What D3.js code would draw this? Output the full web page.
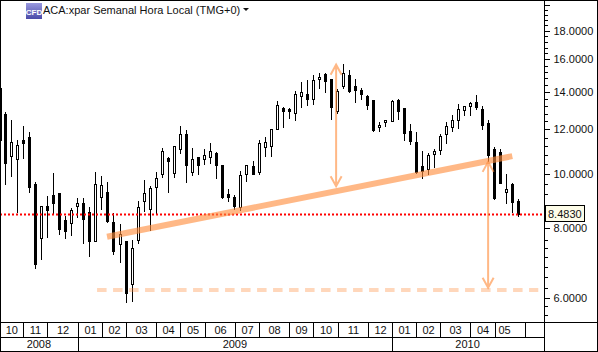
<!DOCTYPE html>
<html>
<head>
<meta charset="utf-8">
<script src="https://d3js.org/d3.v7.min.js"></script>
<style>
  html, body { margin: 0; padding: 0; background: #fff; }
  svg { display: block; }
  text { font-family: "Liberation Sans", Arial, sans-serif; font-size: 11px; fill: #111; }
</style>
</head>
<body>
<div id="chart"></div>
<script>
//***************** data *******************/
// weekly candles, first one is cut by the left edge
var opens = [14.23,12.78,10.76,10.63,11.49,11.63,9.59,7.68,8.76,9.17,9.24,8.27,8.17,8.76,8.87,8.55,7.59,9.09,9.28,8.20,7.50,7.59,6.36,7.62,8.94,8.66,9.47,9.99,10.67,10.03,11.07,11.77,10.08,10.71,
  10.63,10.71,10.89,10.37,9.21,9.09,8.73,9.99,10.33,10.08,11.16,11.21,12.02,13.10,13.05,12.84,13.77,13.88,13.60,14.77,15.07,14.77,12.94,14.35,15.01,14.35,14.11,13.77,13.54,12.12,12.37,12.42,13.54,
  13.10,11.92,11.40,10.33,10.20,10.85,11.03,11.77,12.12,12.47,13.00,13.21,13.43,13.05,12.32,11.07,10.94,9.28,9.59,8.94];
var closes = [11.49,10.45,11.40,11.26,11.35,9.47,6.89,8.76,8.62,8.87,7.97,7.91,8.62,8.87,8.30,7.59,9.59,9.55,8.24,7.29,7.81,6.12,7.38,8.73,9.24,9.44,9.83,10.98,10.54,11.21,11.77,10.37,10.63,10.37,
  10.80,10.98,10.37,9.09,9.09,8.76,9.95,10.37,9.99,11.35,11.40,12.02,13.27,12.94,12.94,13.88,14.00,13.60,14.71,14.89,14.65,13.16,14.05,15.14,14.05,14.11,13.88,13.27,11.97,12.22,12.47,13.49,12.94,
  11.82,11.44,10.08,10.12,10.80,10.98,11.68,12.17,12.47,13.05,13.21,13.38,13.16,12.22,10.80,9.06,9.63,9.40,8.91,8.48];
var highs = [14.23,12.89,12.47,11.49,12.17,11.87,9.67,8.76,9.13,10.03,9.24,8.41,8.69,9.06,9.06,8.73,10.08,9.91,9.67,8.51,8.14,7.59,7.62,8.94,9.75,9.51,10.08,11.12,10.71,11.21,12.17,11.97,11.12,10.71,
  11.07,11.35,10.94,10.37,9.40,9.17,10.12,10.37,10.54,11.49,11.63,12.02,13.49,13.16,13.10,14.05,14.59,14.71,15.01,15.14,15.14,14.77,14.17,15.71,15.32,14.77,14.23,13.83,13.54,12.37,12.47,13.54,13.60,
  13.10,12.27,11.87,10.98,10.89,11.07,11.77,12.37,12.73,13.32,13.21,13.43,13.83,13.21,12.47,11.16,11.07,9.99,9.63,9.02];
var lows = [11.49,9.59,9.91,8.55,10.67,9.28,6.78,7.03,7.72,8.51,7.81,7.68,7.78,8.37,7.53,7.14,7.59,8.66,8.20,7.20,6.97,5.90,5.93,7.53,8.58,7.94,8.51,9.87,9.28,9.87,10.89,9.67,9.95,9.99,
  10.41,10.45,9.83,9.06,8.94,8.66,8.62,9.71,9.99,9.99,10.76,10.76,12.02,12.12,12.58,12.47,13.16,13.27,13.32,14.23,14.00,12.52,12.84,14.23,14.00,13.43,13.60,13.05,11.92,11.92,12.17,12.42,12.52,
  11.49,11.30,10.03,9.83,9.99,10.28,10.85,11.35,11.92,12.07,12.73,12.73,13.05,12.02,10.54,9.02,9.63,8.87,8.55,8.41];

var lastPrice = 8.483;
var priceTicks = [20,18,16,14,12,10,8,6];
var minorTicks = [19.6,19.2,18.8,18.4,17.6,17.2,16.8,16.4,15.6,15.2,14.8,14.4,13.6,13.2,12.8,12.4,11.6,11.2,10.8,10.4,9.6,9.2,8.8,8.4,
  7.62,7.38,7.09,6.81,6.55,6.25,5.8,5.6];

// months and years along the bottom, start = week number
var monthLabels = ["10","11","12","01","02","03","04","05","06","07","08","09","10","11","12","01","02","03","04","05"];
var monthEnds = [3,7,12,16,20,25,29,33,38,42,47,51,55,60,64,68,72,77,81,84];
var monthRules = [3,7,12,16,20,25,29,33,38,42,47,51,55,60,64,68,72,77,81,86];
var yearLabels = ["2008","2009","2010"];
var yearStarts = [-0.86,12,64];
var yearEnds = [12,64,89];

// drawn annotations: [week, price]
var trendLine = [[16.85,7.72],[83.9,10.75]];
var supportLine = [[15.2,6.2],[88.2,6.2]];
var arrowUp = [54.75,15.66,9.5];
var arrowDown = [79.9,10.5,6.26];

//************* set dimensions ***************/
var width = 598, height = 352;
var axisX = 544.5, monthTop = 322.5, yearTop = 337.5;

//************** setup svg  *****************/
var svg = d3.select("#chart").append("svg")
  .attr("width", width)
  .attr("height", height);

//***************** scales *******************/
var x = d3.scaleLinear().domain([0,85]).range([5.205,518.945]);
var y = d3.scaleLog().domain([6,18]).range([298,30.8]);

function px(i) { return Math.max(0, Math.floor(x(i))); }
function py(v) { return Math.round(y(v)); }

//***************** candles *******************/
var weeks = d3.range(opens.length).map(function(i) { return i - 1; });

var candles = svg.append("g").attr("shape-rendering", "crispEdges");

candles.selectAll("line")
  .data(weeks)
  .enter().append("line")
    .attr("x1", function(d) { return px(d) + 0.5; })
    .attr("x2", function(d) { return px(d) + 0.5; })
    .attr("y1", function(d) { return py(highs[d+1]); })
    .attr("y2", function(d) { return py(lows[d+1]) + 1; })
    .attr("stroke", "#000");

// down weeks are solid, up weeks hollow
candles.selectAll("rect.down")
  .data(weeks.filter(function(d) { return closes[d+1] < opens[d+1]; }))
  .enter().append("rect")
    .attr("class", "down")
    .attr("x", function(d) { return px(d) - 1; })
    .attr("y", function(d) { return py(opens[d+1]); })
    .attr("width", 3)
    .attr("height", function(d) { return py(closes[d+1]) - py(opens[d+1]) + 1; })
    .attr("fill", "#000");

candles.selectAll("rect.up")
  .data(weeks.filter(function(d) { return closes[d+1] >= opens[d+1]; }))
  .enter().append("rect")
    .attr("class", "up")
    .attr("x", function(d) { return px(d) - 0.5; })
    .attr("y", function(d) { return py(closes[d+1]) + 0.5; })
    .attr("width", 2)
    .attr("height", function(d) { return py(opens[d+1]) - py(closes[d+1]); })
    .attr("fill", "#fff")
    .attr("stroke", "#000");

//***************** last price line *******************/
svg.append("line")
  .attr("x1", 0)
  .attr("x2", axisX - 1.5)
  .attr("y1", py(lastPrice) + 0.5)
  .attr("y2", py(lastPrice) + 0.5)
  .attr("stroke", "#f00")
  .attr("stroke-width", 2)
  .attr("stroke-dasharray", "2,2");

//***************** annotations *******************/
var orange = "#ff8c3c";

svg.append("line")
  .attr("x1", x(trendLine[0][0])).attr("y1", y(trendLine[0][1]))
  .attr("x2", x(trendLine[1][0])).attr("y2", y(trendLine[1][1]))
  .attr("stroke", orange)
  .attr("stroke-opacity", 0.62)
  .attr("stroke-width", 6);

svg.append("line")
  .attr("x1", x(supportLine[0][0])).attr("y1", y(supportLine[0][1]))
  .attr("x2", x(supportLine[1][0])).attr("y2", y(supportLine[1][1]))
  .attr("stroke", orange)
  .attr("stroke-opacity", 0.35)
  .attr("stroke-width", 4)
  .attr("stroke-dasharray", "9.5,6.5");

// double arrow: straight shaft, open heads
function drawArrow(a, both) {
  var ax = x(a[0]), top = y(a[1]), bottom = y(a[2]);
  var d = "M" + ax + "," + top + "L" + ax + "," + bottom +
    "M" + (ax-5.5) + "," + (bottom-10) + "L" + ax + "," + bottom + "L" + (ax+5.5) + "," + (bottom-10) +
    "M" + (ax-5.5) + "," + (top+10) + "L" + ax + "," + top + "L" + (ax+5.5) + "," + (top+10);
  svg.append("path")
    .attr("d", d)
    .attr("fill", "none")
    .attr("stroke", orange)
    .attr("stroke-opacity", 0.62)
    .attr("stroke-width", 2);
}
drawArrow(arrowUp);
drawArrow(arrowDown);

//***************** axes *******************/
var axisMinor = d3.axisRight(y)
  .tickValues(minorTicks)
  .tickSize(3)
  .tickFormat("");
var axisMajor = d3.axisRight(y)
  .tickValues(priceTicks)
  .tickSize(5)
  .tickPadding(4)
  .tickFormat(function(d) { return d === 20 ? "" : d3.format(".4f")(d); });

[axisMinor, axisMajor].forEach(function(ax) {
  var g = svg.append("g")
    .attr("transform", "translate(" + axisX + ",0)")
    .attr("shape-rendering", "crispEdges")
    .call(ax);
  g.select(".domain").remove();
  g.selectAll("line").attr("stroke", "#000");
  g.selectAll("text")
    .attr("fill", "#111")
    .attr("font-size", "11px")
    .attr("font-family", "Liberation Sans");
});

// price box
var box = svg.append("g");
box.append("rect")
  .attr("x", 545.5).attr("y", 205.5)
  .attr("width", 39).attr("height", 16)
  .attr("fill", "#fdfce8")
  .attr("stroke", "#000");
box.append("text")
  .attr("x", 548).attr("y", 217.5)
  .text(d3.format(".4f")(lastPrice));

//***************** frame and date rows *******************/
var rules = svg.append("g")
  .attr("stroke", "#000")
  .attr("shape-rendering", "crispEdges");

function rule(x1, y1, x2, y2) {
  rules.append("line").attr("x1", x1).attr("y1", y1).attr("x2", x2).attr("y2", y2);
}
rule(axisX, 0, axisX, height);
rule(0, monthTop, width, monthTop);
rule(0, yearTop, axisX, yearTop);

rules.append("rect")
  .attr("x", 0.5).attr("y", 0.5)
  .attr("width", width - 1).attr("height", height - 1)
  .attr("fill", "none");

function ruleX(i) { return Math.round(x(i) - 0.1) + 0.5; }

monthRules.forEach(function(m) { rule(ruleX(m), monthTop, ruleX(m), yearTop); });
yearEnds.slice(0, 2).forEach(function(m) { rule(ruleX(m), yearTop, ruleX(m), height); });

svg.selectAll("text.month")
  .data(monthLabels)
  .enter().append("text")
    .attr("class", "month")
    .attr("text-anchor", "middle")
    .attr("x", function(d, i) { return ((i === 0 ? 0 : ruleX(monthEnds[i-1])) + ruleX(monthEnds[i])) / 2; })
    .attr("y", 334)
    .text(function(d) { return d; });

svg.selectAll("text.year")
  .data(yearLabels)
  .enter().append("text")
    .attr("class", "year")
    .attr("text-anchor", "middle")
    .attr("x", function(d, i) { return (Math.max(0, x(yearStarts[i])) + Math.min(axisX, x(yearEnds[i]))) / 2; })
    .attr("y", 348)
    .text(function(d) { return d; });

//***************** title *******************/
var defs = svg.append("defs");
var grad = defs.append("linearGradient")
  .attr("id", "cfd").attr("x1", 0).attr("y1", 0).attr("x2", 0).attr("y2", 1);
grad.append("stop").attr("offset", "0%").attr("stop-color", "#9a9ae0");
grad.append("stop").attr("offset", "100%").attr("stop-color", "#4a4aa8");

svg.append("rect")
  .attr("x", 26).attr("y", 3)
  .attr("width", 16).attr("height", 16)
  .attr("fill", "url(#cfd)");
svg.append("text")
  .attr("x", 34).attr("y", 14.5)
  .attr("text-anchor", "middle")
  .style("font-size", "8px")
  .style("font-weight", "bold")
  .style("fill", "#fff")
  .text("CFD");
svg.append("text")
  .attr("x", 43).attr("y", 14)
  .text("ACA:xpar Semanal Hora Local (TMG+0)");
svg.append("path")
  .attr("d", d3.line()([[243,8],[249,8],[246,11]]) + "Z")
  .attr("fill", "#111");
</script>
</body>
</html>
